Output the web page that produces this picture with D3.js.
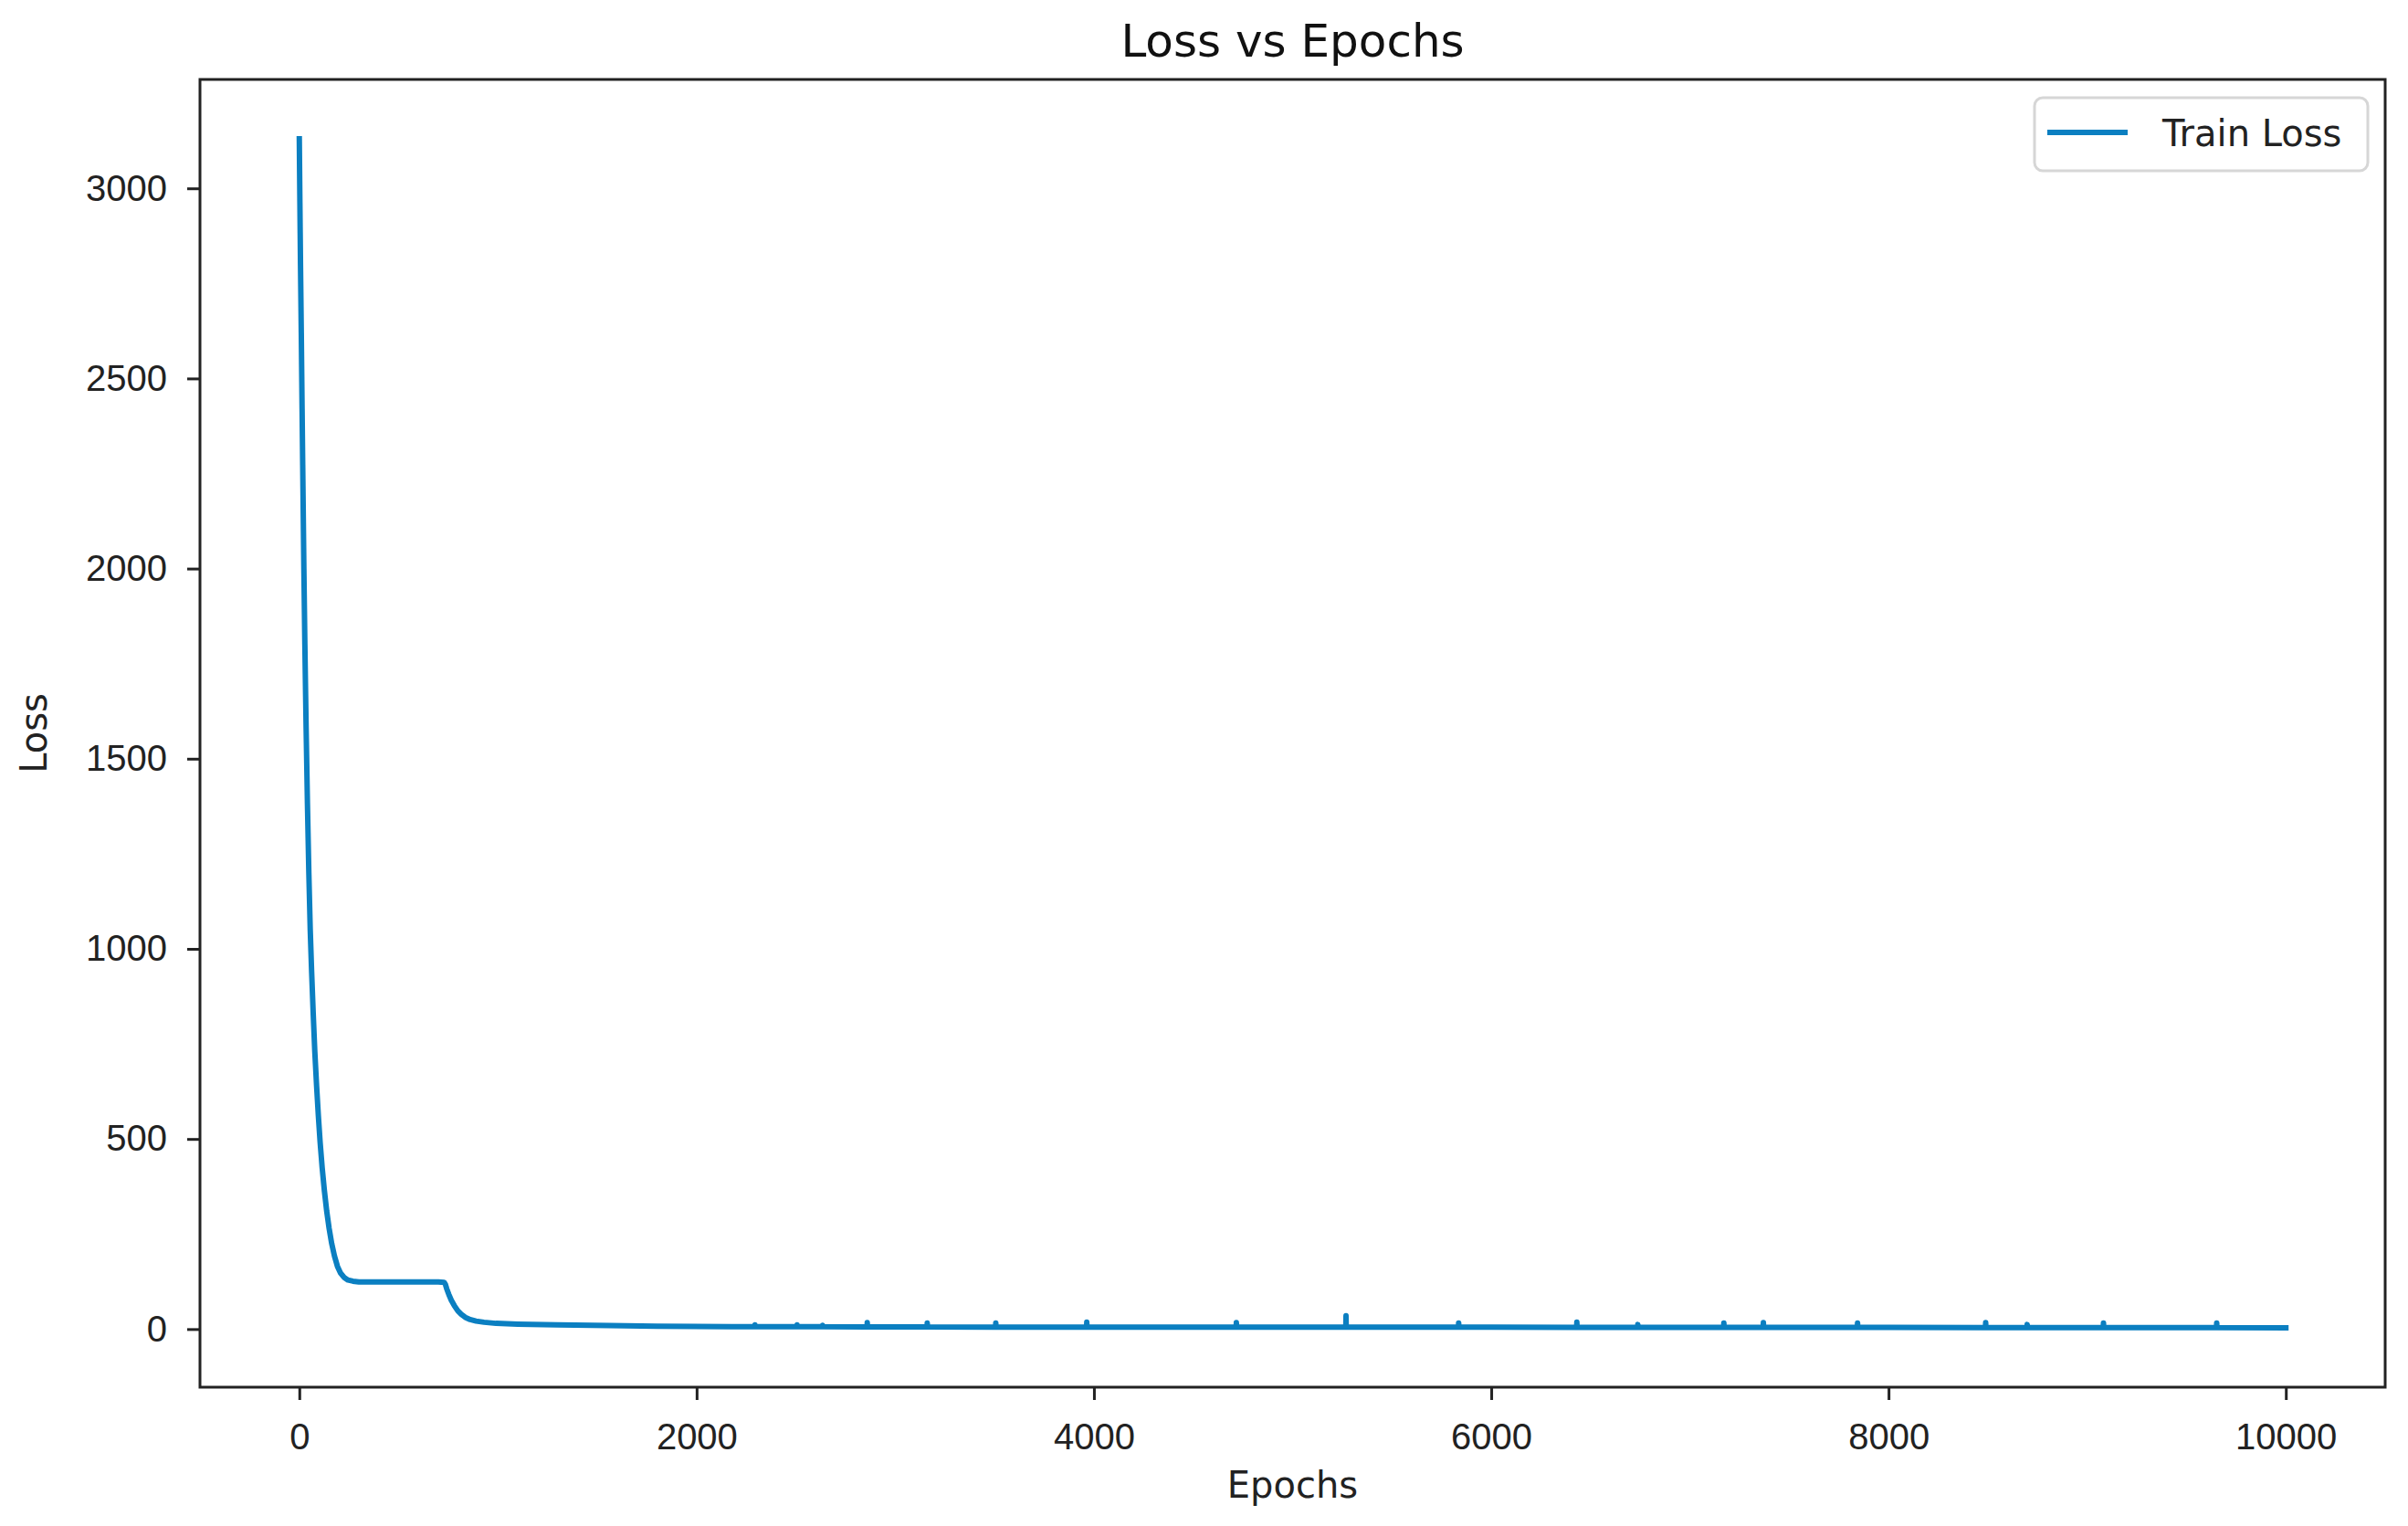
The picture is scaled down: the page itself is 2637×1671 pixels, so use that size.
<!DOCTYPE html>
<html>
<head>
<meta charset="utf-8">
<script src="https://cdn.jsdelivr.net/npm/d3@7"></script>
<style>
    body { margin: 0; background: #fff; }
    svg { display: block; font-family: "DejaVu Sans", sans-serif; }
</style>
</head>
<body>
<script>
// values
const epochs = [
    0, 3, 6, 10, 14, 18, 23, 28, 34, 41, 48, 55, 62, 70, 78, 87, 96, 105, 115, 126,
    138, 150, 163, 177, 192, 208, 225, 245, 270, 300, 400, 500, 600, 700,
    729, 735, 742, 752, 765, 780, 798, 815, 835, 860, 890, 930, 990, 1100, 1300, 1563, 1800, 2174,
    2293, 2294, 2295, 2505, 2506, 2507, 2633, 2634, 2635, 2858, 2859, 2860, 3000,
    3160, 3161, 3162, 3505, 3506, 3507, 3963, 3964, 3965, 4000, 4716, 4717, 4718, 5000,
    5268, 5269, 5270, 5835, 5836, 5837, 6000, 6430, 6431, 6432, 6737, 6738, 6739, 7000,
    7170, 7171, 7172, 7369, 7370, 7371, 7843, 7844, 7845, 8000, 8488, 8489, 8490,
    8697, 8698, 8699, 9000, 9081, 9082, 9083, 9651, 9652, 9653, 10000
];
const trainLoss = [
    3130, 2960, 2800, 2620, 2420, 2230, 2000, 1800, 1590, 1380, 1200, 1050, 940, 830, 730, 640, 560, 490, 425, 365,
    310, 265, 225, 192, 165, 147, 136, 129, 126, 124, 124, 124, 124, 124,
    123, 118, 106, 92, 76, 62, 48, 39, 31, 25, 21, 18, 15, 13, 11, 9.5, 7.5, 6,
    6, 11, 6, 6, 11, 6, 6, 10, 6, 5.5, 17, 5.5, 5.5,
    5.5, 16, 5.5, 5, 16, 5, 5, 18, 5, 5, 5, 17, 5, 5,
    5, 35, 5, 5, 16, 5, 5, 4.5, 18, 4.5, 4.5, 12, 4.5, 4.5,
    4.5, 16, 4.5, 4.5, 17, 4.5, 4.5, 16, 4.5, 4.5, 4, 17, 4,
    4, 12, 4, 4, 4, 16, 4, 4, 16, 4, 3.5
];
const xTicks = [0, 2000, 4000, 6000, 8000, 10000];
const yTicks = [0, 500, 1000, 1500, 2000, 2500, 3000];

const width = 2637;
const height = 1671;
const margin = { top: 87, right: 25, bottom: 152, left: 219 };
const lineColor = "#0b7fc1";

let svg = d3
    .select("body")
    .append("svg")
    .attr("width", width)
    .attr("height", height);

let points = epochs.map((e, i) => ({ epoch: e, loss: trainLoss[i] }));

// matplotlib style 5% padding on both axes
let xMin = d3.min(epochs), xMax = d3.max(epochs);
let yMin = d3.min(trainLoss), yMax = d3.max(trainLoss);
let xPad = (xMax - xMin) * 0.05;
let yPad = (yMax - yMin) * 0.05;

let xScale = d3.scaleLinear()
    .domain([xMin - xPad, xMax + xPad])
    .range([margin.left, width - margin.right]);

let yScale = d3.scaleLinear()
    .domain([yMin - yPad, yMax + yPad])
    .range([height - margin.bottom, margin.top]);

let bottomAxis = d3.axisBottom(xScale)
    .tickValues(xTicks)
    .tickFormat(d3.format("d"))
    .tickSize(14)
    .tickSizeOuter(0)
    .tickPadding(26);

let leftAxis = d3.axisLeft(yScale)
    .tickValues(yTicks)
    .tickFormat(d3.format("d"))
    .tickSize(14)
    .tickSizeOuter(0)
    .tickPadding(22);

let bottomContainer = svg.append("g")
    .attr("transform", `translate(0, ${height - margin.bottom})`)
    .call(bottomAxis);

let leftContainer = svg.append("g")
    .attr("transform", `translate(${margin.left}, 0)`)
    .call(leftAxis);

[bottomContainer, leftContainer].forEach(g => {
    g.select(".domain").remove();
    g.selectAll(".tick line").attr("stroke", "#222").attr("stroke-width", 3);
    g.selectAll(".tick text")
        .attr("fill", "#222")
        .style("font-size", "40px");
});

// the line itself
let line = d3.line()
    .x(d => xScale(d.epoch))
    .y(d => yScale(d.loss));

svg.append("path")
    .datum(points)
    .attr("fill", "none")
    .attr("stroke", lineColor)
    .attr("stroke-width", 6)
    .attr("stroke-linejoin", "round")
    .attr("stroke-linecap", "square")
    .attr("d", line);

// frame around the axes
svg.append("rect")
    .attr("x", margin.left)
    .attr("y", margin.top)
    .attr("width", width - margin.right - margin.left)
    .attr("height", height - margin.bottom - margin.top)
    .attr("fill", "none")
    .attr("stroke", "#222")
    .attr("stroke-width", 3);

svg.append("text")
    .text("Loss vs Epochs")
    .attr("x", (margin.left + width - margin.right) / 2)
    .attr("y", 62)
    .attr("text-anchor", "middle")
    .attr("fill", "#111")
    .style("font-size", "50px");

svg.append("text")
    .text("Epochs")
    .attr("x", (margin.left + width - margin.right) / 2)
    .attr("y", 1640)
    .attr("text-anchor", "middle")
    .attr("fill", "#222")
    .style("font-size", "40px");

let midY = (margin.top + height - margin.bottom) / 2;
svg.append("text")
    .text("Loss")
    .attr("text-anchor", "middle")
    .attr("fill", "#222")
    .style("font-size", "40px")
    .attr("transform", `translate(51, ${midY}) rotate(270)`);

// legend
let legend = svg.append("g")
    .attr("transform", "translate(2228, 107)");

legend.append("rect")
    .attr("width", 365)
    .attr("height", 80)
    .attr("rx", 9)
    .attr("fill", "#fff")
    .attr("stroke", "#d6d6d6")
    .attr("stroke-width", 3);

legend.append("line")
    .attr("x1", 14)
    .attr("x2", 102)
    .attr("y1", 38)
    .attr("y2", 38)
    .attr("stroke", lineColor)
    .attr("stroke-width", 6);

legend.append("text")
    .text("Train Loss")
    .attr("x", 140)
    .attr("y", 53)
    .attr("fill", "#222")
    .style("font-size", "40px");
</script>
</body>
</html>
